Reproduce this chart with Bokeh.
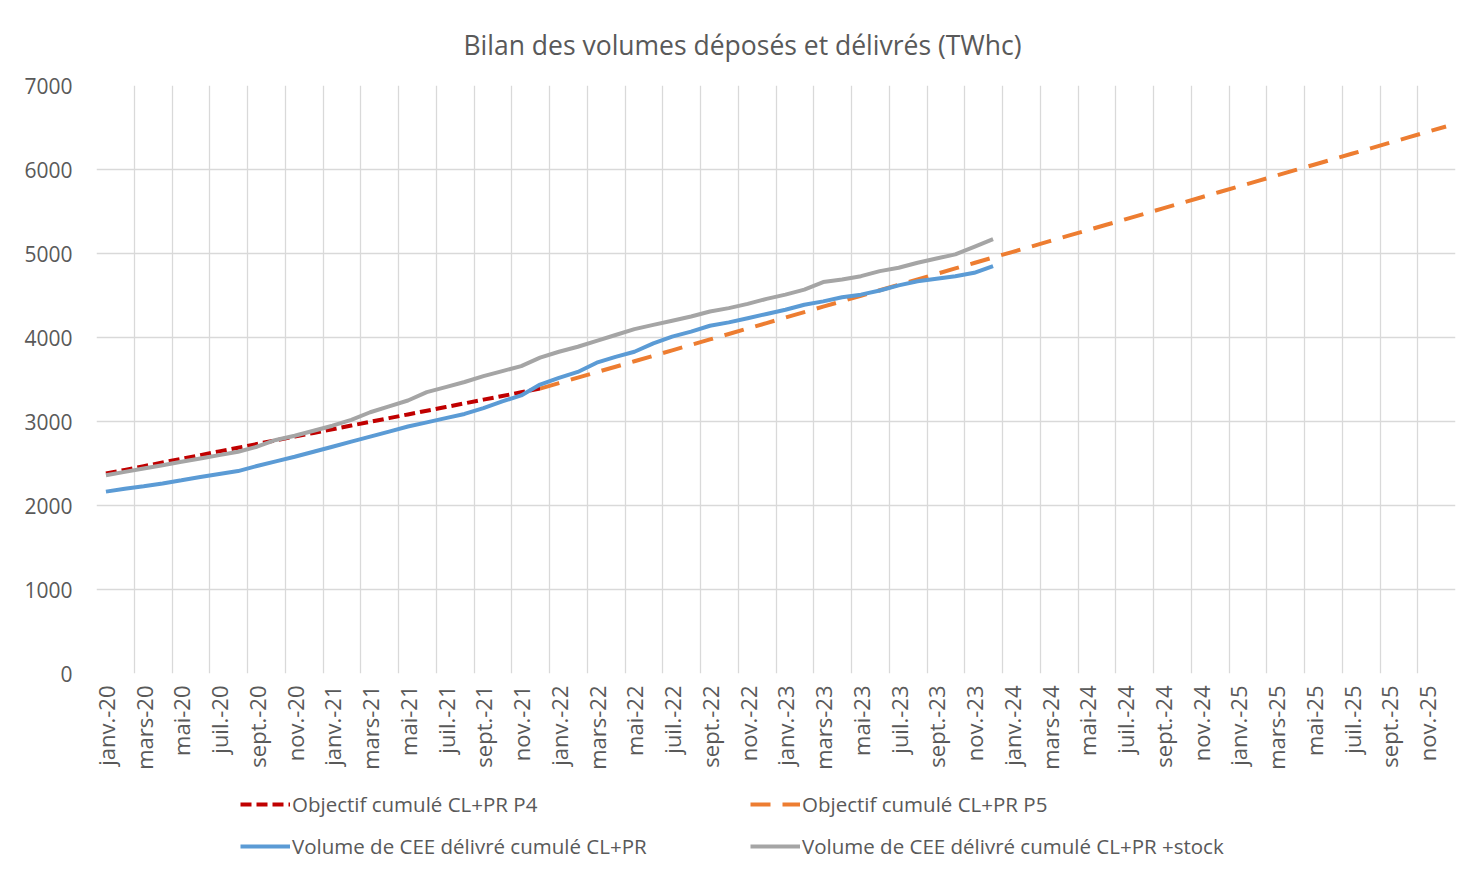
from bokeh.plotting import figure
from bokeh.layouts import column
from bokeh.models import FixedTicker, Legend, LegendItem, Range1d
from bokeh.embed import file_html
from bokeh.resources import INLINE
from math import pi

# ---- data -------------------------------------------------------------
mois = ["janv.", "févr.", "mars", "avr.", "mai", "juin",
        "juil.", "août", "sept.", "oct.", "nov.", "déc."]
annees = ["20", "21", "22", "23", "24", "25"]
categories = [f"{m}-{a}" for a in annees for m in mois]   # janv.-20 .. déc.-25

# Objectif cumulé CL+PR P4 : janv.-20 .. déc.-21
objectif_p4 = [2380, 2424, 2468, 2512, 2556, 2600, 2644, 2688, 2732, 2776, 2820, 2864,
               2908, 2952, 2996, 3040, 3084, 3128, 3172, 3216, 3260, 3304, 3348, 3392]
p4_start = "janv.-20"

# Objectif cumulé CL+PR P5 : déc.-21 .. déc.-25
objectif_p5 = [3392, 3457, 3522, 3587, 3652, 3717, 3782, 3847, 3912, 3977, 4042, 4107,
               4172, 4237, 4302, 4367, 4432, 4497, 4562, 4627, 4692, 4757, 4822, 4887,
               4952, 5017, 5082, 5147, 5212, 5277, 5342, 5407, 5472, 5537, 5602, 5667,
               5732, 5797, 5862, 5927, 5992, 6057, 6122, 6187, 6252, 6317, 6382, 6447,
               6512]
p5_start = "déc.-21"

# Volume de CEE délivré cumulé CL+PR : janv.-20 .. déc.-23
volume_delivre = [2165, 2200, 2230, 2262, 2300, 2340, 2375, 2410, 2470, 2525, 2580, 2640,
                  2700, 2760, 2820, 2880, 2940, 2990, 3040, 3090, 3160, 3240, 3310, 3440,
                  3520, 3590, 3700, 3770, 3830, 3930, 4010, 4070, 4140, 4180, 4230, 4280,
                  4330, 4390, 4430, 4480, 4510, 4560, 4620, 4670, 4700, 4730, 4770, 4850]

# Volume de CEE délivré cumulé CL+PR +stock : janv.-20 .. déc.-23
volume_stock = [2360, 2400, 2440, 2480, 2520, 2560, 2600, 2640, 2700, 2780, 2830, 2890,
                2950, 3020, 3110, 3180, 3250, 3350, 3410, 3470, 3540, 3600, 3660, 3760,
                3830, 3890, 3960, 4030, 4100, 4150, 4200, 4250, 4310, 4350, 4400, 4460,
                4510, 4570, 4660, 4690, 4730, 4790, 4830, 4890, 4940, 4990, 5080, 5170]
vol_start = "janv.-20"

y_ticks = [0, 1000, 2000, 3000, 4000, 5000, 6000, 7000]


def xs(start, n):
    i0 = categories.index(start)
    return [i0 + k + 0.5 for k in range(n)]


# ---- styles -------------------------------------------------------------
TXT = "#595959"
GRID = "#D9D9D9"
FONT = "Open Sans"
C_P4, C_P5, C_VOL, C_STK = "#C00000", "#ED7D31", "#5B9BD5", "#A5A5A5"
D_P4, D_P5 = "11 5", "20 12"
LW = 4

# ---- main figure ----------------------------------------------------------
p = figure(width=1466, height=778, output_backend="svg", toolbar_location=None,
           x_range=Range1d(0, len(categories)), y_range=Range1d(0, 7000),
           min_border_left=96, min_border_right=11, min_border_top=85,
           min_border_bottom=105,
           title="Bilan des volumes déposés et délivrés (TWhc)")
p.outline_line_color = None
p.background_fill_color = "white"
p.border_fill_color = "white"

p.title.align = "left"
p.title.offset = 367
p.title.standoff = 45
p.title.text_font = FONT
p.title.text_font_size = "26.5px"
p.title.text_font_style = "normal"
p.title.text_color = TXT

# axes
p.xaxis.ticker = FixedTicker(ticks=[i + 0.5 for i in range(0, len(categories), 2)])
p.xaxis.major_label_overrides = {i + 0.5: categories[i] for i in range(0, len(categories), 2)}
p.xaxis.major_label_orientation = pi / 2
p.yaxis.ticker = FixedTicker(ticks=y_ticks)
for ax in (p.xaxis[0], p.yaxis[0]):
    ax.axis_line_color = None
    ax.major_tick_line_color = None
    ax.minor_tick_line_color = None
    ax.major_tick_out = 0
    ax.major_tick_in = 0
    ax.major_label_text_color = TXT
    ax.major_label_text_font = FONT
p.xaxis.major_label_text_font_size = "22px"
p.yaxis.major_label_text_font_size = "21px"
p.xaxis.major_label_standoff = 12
p.yaxis.major_label_standoff = 24

p.xgrid.ticker = FixedTicker(ticks=list(range(0, len(categories) + 1, 2)))
p.ygrid.ticker = FixedTicker(ticks=y_ticks)
p.xgrid.grid_line_color = GRID
p.ygrid.grid_line_color = GRID
p.xgrid.grid_line_width = 1.3
p.ygrid.grid_line_width = 1.3

# lines
p.line(xs(p5_start, len(objectif_p5)), objectif_p5, line_color=C_P5,
       line_width=LW, line_dash=D_P5)
p.line(xs(p4_start, len(objectif_p4)), objectif_p4, line_color=C_P4,
       line_width=LW, line_dash=D_P4)
p.line(xs(vol_start, len(volume_stock)), volume_stock, line_color=C_STK, line_width=LW)
p.line(xs(vol_start, len(volume_delivre)), volume_delivre, line_color=C_VOL, line_width=LW)

# ---- legend strip (separate figure below the chart) -----------------------
# The same series are drawn here but fall outside this strip's 0..1 ranges;
# they only serve as legend glyph sources.
lf = figure(width=1466, height=87, output_backend="svg", toolbar_location=None,
            x_range=Range1d(0, 1), y_range=Range1d(0, 1),
            x_axis_location=None, y_axis_location=None,
            min_border=0)
lf.outline_line_color = None
lf.grid.visible = False
g_p4 = lf.line(xs(p4_start, len(objectif_p4)), objectif_p4, line_color=C_P4,
               line_width=LW, line_dash=D_P4)
g_p5 = lf.line(xs(p5_start, len(objectif_p5)), objectif_p5, line_color=C_P5,
               line_width=LW, line_dash=D_P5)
g_vo = lf.line(xs(vol_start, len(volume_delivre)), volume_delivre, line_color=C_VOL,
               line_width=LW)
g_st = lf.line(xs(vol_start, len(volume_stock)), volume_stock, line_color=C_STK,
               line_width=LW)


def make_legend(items, loc):
    lg = Legend(items=items, orientation="horizontal", location=loc)
    lg.border_line_color = None
    lg.background_fill_alpha = 0
    lg.label_text_font = FONT
    lg.label_text_font_size = "20.5px"
    lg.label_text_color = TXT
    lg.glyph_width = 50
    lg.glyph_height = 20
    lg.label_standoff = 2
    lg.label_width = 458
    lg.label_height = 22
    lg.spacing = 0
    lg.padding = 0
    lg.margin = 0
    return lg


lf.add_layout(make_legend([
    LegendItem(label="Objectif cumulé CL+PR P4", renderers=[g_p4]),
    LegendItem(label="Objectif cumulé CL+PR P5", renderers=[g_p5]),
], (144, 47)))
lf.add_layout(make_legend([
    LegendItem(label="Volume de CEE délivré cumulé CL+PR", renderers=[g_vo]),
    LegendItem(label="Volume de CEE délivré cumulé CL+PR +stock", renderers=[g_st]),
], (144, 5)))

layout = column(p, lf, spacing=0)
open("out.html", "w").write(file_html(layout, INLINE))
